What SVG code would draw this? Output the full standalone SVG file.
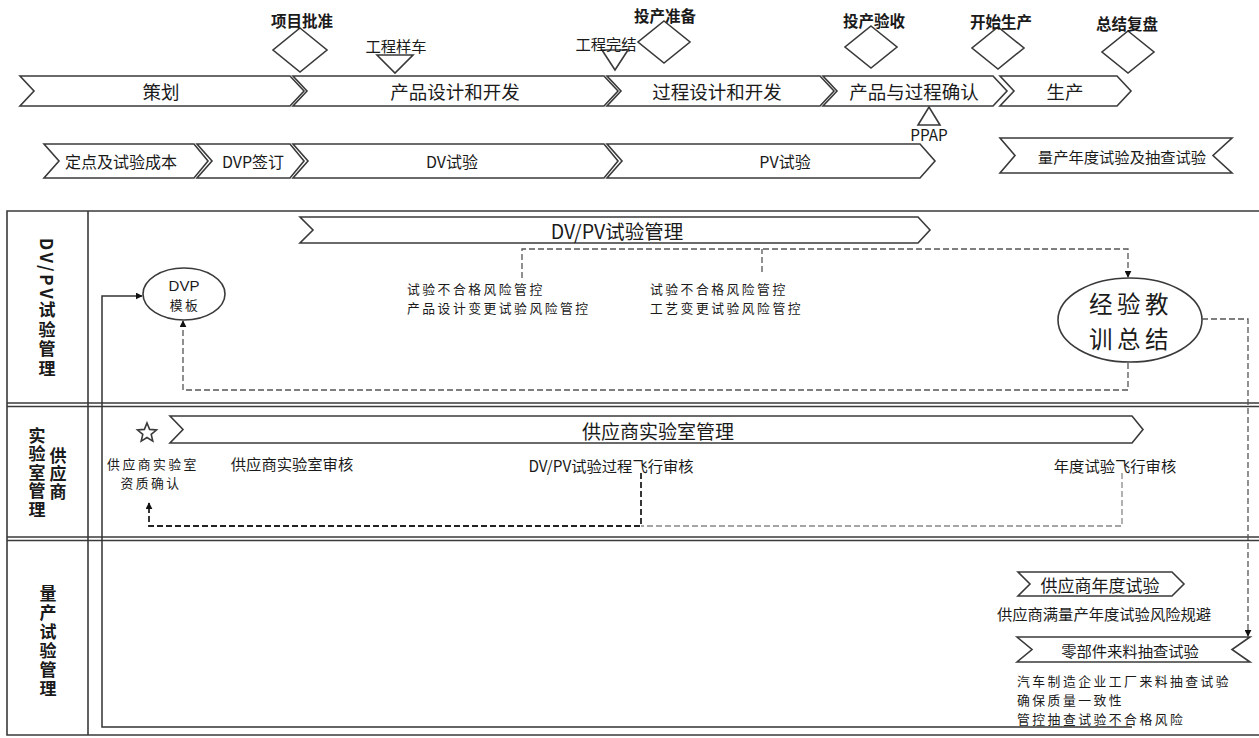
<svg xmlns="http://www.w3.org/2000/svg" width="1259" height="738" viewBox="0 0 1259 738">
<style>
.shape{fill:#fff;stroke:#3a3a3a;stroke-width:1.6}
.lane{fill:none;stroke:#3a3a3a;stroke-width:1.6}
.t{font-family:"Noto Sans CJK SC","Liberation Sans",sans-serif;fill:#1a1a1a;text-anchor:middle;dominant-baseline:central}
.tl{font-family:"Noto Sans CJK SC","Liberation Sans",sans-serif;fill:#1a1a1a;text-anchor:start;dominant-baseline:central;font-size:12.8px;letter-spacing:2.5px}
.tc{font-size:12.8px;letter-spacing:2.5px}
.big{font-size:18.5px}
.row{font-size:16px}
.sm{font-size:15.3px}
.ms{font-size:15.5px;font-weight:bold}
.jy{font-size:23.5px;letter-spacing:4.5px}
.vl{font-family:"Noto Sans CJK SC","Liberation Sans",sans-serif;fill:#1a1a1a;text-anchor:start;font-size:17px;font-weight:bold;writing-mode:vertical-rl}
.dash{fill:none;stroke:#555;stroke-width:1.3;stroke-dasharray:6 3}
.dashd{fill:none;stroke:#222;stroke-width:1.8;stroke-dasharray:6 3}
.dashl{fill:none;stroke:#888;stroke-width:1.3;stroke-dasharray:6 3}
.solid{fill:none;stroke:#333;stroke-width:1.5}
</style>
<defs>
<marker id="arr" viewBox="0 0 10 10" refX="9" refY="5" markerWidth="7" markerHeight="7" orient="auto" markerUnits="userSpaceOnUse">
<path d="M0,0 L10,5 L0,10 Z" fill="#111"/>
</marker>
</defs>
<rect width="1259" height="738" fill="#fff"/>

<!-- swimlanes -->
<g id="lanes">
<path class="lane" d="M1262,211 H7 V735 H1262"/>
<line class="lane" x1="88" y1="211" x2="88" y2="735"/>
<line class="lane" x1="7" y1="403" x2="1262" y2="403"/>
<line class="lane" x1="7" y1="406.5" x2="1262" y2="406.5"/>
<line class="lane" x1="7" y1="537" x2="1262" y2="537"/>
<line class="lane" x1="7" y1="540.5" x2="1262" y2="540.5"/>
<text class="vl" x="47" y="238" textLength="139" lengthAdjust="spacing">DV/PV试验管理</text>
<text class="vl" x="58" y="447" textLength="53" lengthAdjust="spacing">供应商</text>
<text class="vl" x="37" y="427" textLength="91" lengthAdjust="spacing">实验室管理</text>
<text class="vl" x="48" y="585" textLength="112" lengthAdjust="spacing">量产试验管理</text>
</g>

<!-- milestones -->
<g id="m-xmpz"><path class="shape" d="M300,28 L327,50 L300,72 L273,50 Z"/><text class="t ms" x="302" y="20">项目批准</text></g>
<g id="m-gcyc"><path class="shape" d="M377,55 L413,55 L395,73 Z"/><text class="t sm" x="396" y="45">工程样车</text></g>
<g id="m-gcwj"><path class="shape" d="M602,50 L628,50 L615,70 Z"/><text class="t sm" x="606" y="43">工程完结</text></g>
<g id="m-tczb"><path class="shape" d="M664,21 L690,42 L664,63 L638,42 Z"/><text class="t ms" x="665" y="15">投产准备</text></g>
<g id="m-tcys"><path class="shape" d="M871,26 L897,47 L871,68 L845,47 Z"/><text class="t ms" x="874" y="20">投产验收</text></g>
<g id="m-kssc"><path class="shape" d="M998,27 L1024,48 L998,69 L972,48 Z"/><text class="t ms" x="1001" y="21">开始生产</text></g>
<g id="m-zjfp"><path class="shape" d="M1128,31 L1154,52 L1128,73 L1102,52 Z"/><text class="t ms" x="1127" y="23">总结复盘</text></g>
<g id="m-ppap"><path class="shape" d="M918,125 L940,125 L929,107 Z"/><text class="t sm" x="929" y="134">PPAP</text></g>

<!-- phase row -->
<g id="p-ch"><path class="shape" d="M20,76 L290,76 L304,91 L290,106 L20,106 L34,91 Z"/><text class="t big" x="161" y="91">策划</text></g>
<g id="p-cpsj"><path class="shape" d="M293,76 L604,76 L618,91 L604,106 L293,106 L307,91 Z"/><text class="t big" x="455" y="91">产品设计和开发</text></g>
<g id="p-gcsj"><path class="shape" d="M607,76 L820,76 L834,91 L820,106 L607,106 L621,91 Z"/><text class="t big" x="717" y="91">过程设计和开发</text></g>
<g id="p-qr"><path class="shape" d="M823,76 L993,76 L1007,91 L993,106 L823,106 L837,91 Z"/><text class="t big" x="914" y="91">产品与过程确认</text></g>
<g id="p-sc"><path class="shape" d="M1000,76 L1117,76 L1131,91 L1117,106 L1000,106 L1014,91 Z"/><text class="t big" x="1065" y="91">生产</text></g>

<!-- test row -->
<g id="r-dd"><path class="shape" d="M44,144 L194,144 L208,161 L194,178 L44,178 L59,161 Z"/><text class="t row" x="121" y="161">定点及试验成本</text></g>
<g id="r-dvp"><path class="shape" d="M197,144 L290,144 L304,161 L290,178 L197,178 L212,161 Z"/><text class="t row" x="253" y="161">DVP签订</text></g>
<g id="r-dv"><path class="shape" d="M293,144 L604,144 L618,161 L604,178 L293,178 L308,161 Z"/><text class="t row" x="452" y="161">DV试验</text></g>
<g id="r-pv"><path class="shape" d="M607,144 L920,144 L935,161 L920,178 L607,178 L622,161 Z"/><text class="t row" x="785" y="161">PV试验</text></g>
<g id="r-lc"><path class="shape" d="M1000,138 L1232,138 L1213,155.5 L1232,173 L1000,173 L1015,155.5 Z"/><text class="t sm" x="1122" y="155.5">量产年度试验及抽查试验</text></g>

<!-- lane 1 -->
<g id="n-dvpvgl"><path class="shape" d="M300,217 L918,217 L930,230 L918,243 L300,243 L313,230 Z"/><text class="t" style="font-size:19.5px" x="617" y="230">DV/PV试验管理</text></g>
<g id="n-dvpmb"><ellipse class="shape" cx="184" cy="294" rx="41" ry="26"/><text class="t" style="font-family:'Liberation Sans',sans-serif;font-size:15px" x="184" y="285">DVP</text><text class="t tc" x="185" y="304">模板</text></g>
<g id="n-risk1"><text class="tl" x="407" y="288">试验不合格风险管控</text><text class="tl" x="407" y="307">产品设计变更试验风险管控</text></g>
<g id="n-risk2"><text class="tl" x="650" y="288">试验不合格风险管控</text><text class="tl" x="650" y="307">工艺变更试验风险管控</text></g>
<g id="n-jyjx"><ellipse class="shape" cx="1130" cy="320" rx="72" ry="42"/><text class="t jy" x="1131" y="303">经验教</text><text class="t jy" x="1131" y="338">训总结</text></g>

<!-- lane 2 -->
<g id="n-star"><polygon class="shape" points="147,423 149.6,429.4 156.5,430 151.2,434.4 152.8,441.1 147,437.5 141.2,441.1 142.8,434.4 137.5,430 144.4,429.4"/></g>
<g id="n-gyssys"><path class="shape" d="M170,416 L1132,416 L1143,429.5 L1132,443 L170,443 L183,429.5 Z"/><text class="t" style="font-size:19px" x="658" y="430">供应商实验室管理</text></g>
<g id="n-zzqr"><text class="t tc" x="153" y="463">供应商实验室</text><text class="t tc" x="151" y="482">资质确认</text></g>
<g id="n-syssh"><text class="t sm" x="292" y="463">供应商实验室审核</text></g>
<g id="n-fxsh"><text class="t sm" x="611" y="465">DV/PV试验过程飞行审核</text></g>
<g id="n-ndfx"><text class="t sm" x="1115" y="465">年度试验飞行审核</text></g>

<!-- lane 3 -->
<g id="n-gysnd"><path class="shape" d="M1018,572 L1172,572 L1184,584 L1172,596 L1018,596 L1030,584 Z"/><text class="t" style="font-size:17px" x="1100" y="584">供应商年度试验</text><text class="t sm" x="1104" y="613">供应商满量产年度试验风险规避</text></g>
<g id="n-lbj"><path class="shape" d="M1017,637 L1250,637 L1232,649.5 L1250,662 L1017,662 L1032,649.5 Z"/><text class="t sm" x="1130" y="650">零部件来料抽查试验</text>
<text class="tl" x="1017" y="680">汽车制造企业工厂来料抽查试验</text>
<text class="tl" x="1017" y="699">确保质量一致性</text>
<text class="tl" x="1017" y="718">管控抽查试验不合格风险</text></g>

<!-- connectors -->
<g id="connectors">
<path class="dash" d="M522,278 V249 H1128 V277" marker-end="url(#arr)"/>
<path class="dash" d="M762,272 V249"/>
<path class="dash" d="M1128,363 V390 H183 V321" marker-end="url(#arr)"/>
<path class="dash" d="M1202,319 H1248 V636" marker-end="url(#arr)"/>
<path class="dashl" d="M1122,473 V526 H641"/>
<path class="dashd" d="M641,473 V526 H149 V503" marker-end="url(#arr)"/>
<path class="solid" d="M1132,727 H102 V296 H142" marker-end="url(#arr)"/>
</g>
</svg>
